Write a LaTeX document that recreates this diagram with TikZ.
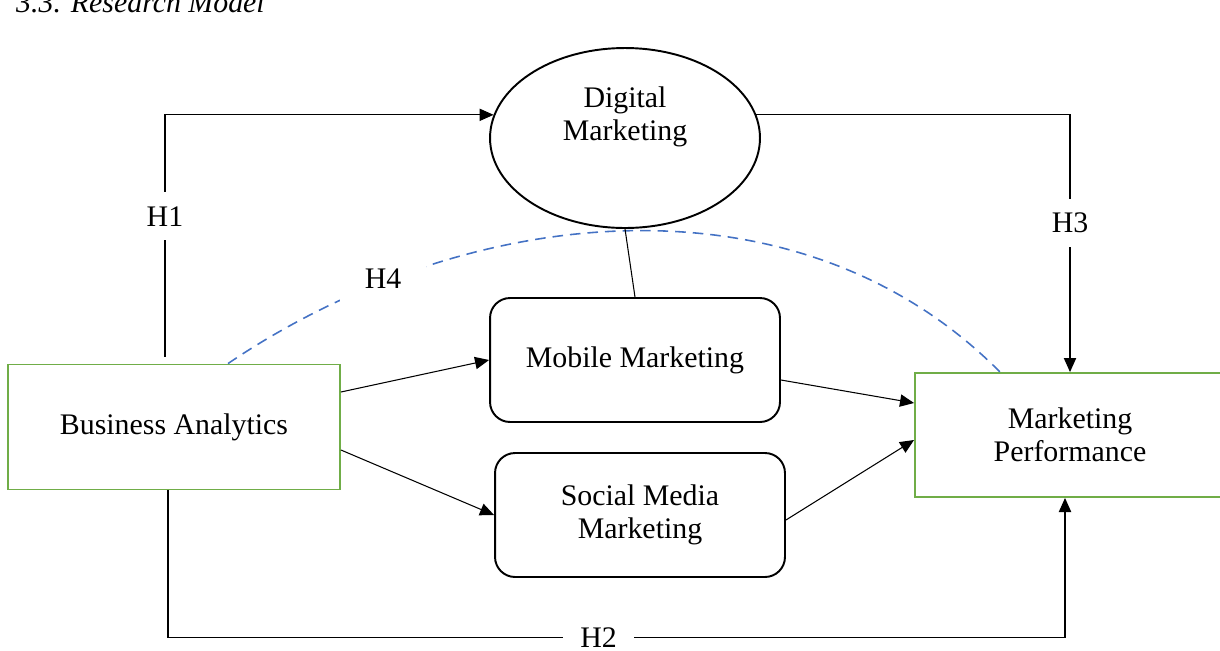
\documentclass[tikz,border=0pt]{standalone}
\usepackage{fontspec}
\setmainfont{Liberation Serif}
\usepackage{tikz}
\usetikzlibrary{arrows.meta,calc,shapes.geometric}
\definecolor{boxgreen}{RGB}{112,173,71}
\definecolor{dashblue}{RGB}{68,114,196}

\begin{document}
\begin{tikzpicture}[x=0.02cm,y=-0.02cm,font=\fontsize{17}{19}\selectfont,
    greenbox/.style={draw=boxgreen,line width=1.1pt,minimum height=2.5cm,align=center},
    roundbox/.style={draw,line width=1.1pt,rounded corners=0.4cm,minimum width=5.8cm,minimum height=2.48cm,align=center},
    arr/.style={-{Triangle[length=8pt,width=7pt]},line width=0.6pt},
    hyp/.style={fill=white,inner xsep=10pt,inner ysep=8pt}]
    \useasboundingbox (0,0) rectangle (1220,650);
    \node[anchor=base west] (title) at (10,12) {\textit{3.3. Research Model}};
    % boxes
    \node[greenbox,minimum width=6.64cm] (ba) at (174,427) {Business Analytics};
    \node[greenbox,minimum width=6.2cm,minimum height=2.48cm] (mp) at (1070,435) {Marketing\\Performance};
    \node[draw,ellipse,line width=1.1pt,minimum width=5.4cm,minimum height=3.6cm] (dm) at (625,138) {};
    \node[align=center] (dmtext) at (625,117) {Digital\\Marketing};
    \node[roundbox] (mobile) at (635,360) {Mobile Marketing};
    \node[roundbox] (social) at (640,515) {Social Media\\Marketing};
    % hypotheses
    \draw[arr] ($(ba.north)+(-9,-7)$) |- node[hyp,pos=0.29] (h1) {H1} (dm.170);
    \draw[arr] (dm.10) -| node[hyp,pos=0.71] (h3) {H3} (mp.north);
    \draw[arr] ($(ba.south)+(-6,0)$) |- node[hyp,pos=0.74,inner ysep=1pt] (h2) {H2} ($(mp.south)+(-5,140)$) -- ($(mp.south)+(-5,0)$);
    \draw[dashed,dashblue,line width=0.9pt,dash pattern=on 6pt off 4pt] ($(ba.north)+(54,0)$) .. controls (470,200) and (800,170) .. ($(mp.north)+(-70,0)$);
    \node[hyp,inner xsep=14pt] (h4) at (383,279) {H4};
    % paths
    \draw[line width=0.6pt] (dm.south) -- (mobile.north);
    \draw[arr] ($(ba.east)+(0,-35)$) -- (mobile.west);
    \draw[arr] ($(ba.east)+(0,23)$) -- (social.west);
    \draw[arr] ($(mobile.east)+(0,20)$) -- ($(mp.west)+(0,-32)$);
    \draw[arr] ($(social.east)+(0,5)$) -- ($(mp.west)+(0,5)$);
\end{tikzpicture}
\end{document}
